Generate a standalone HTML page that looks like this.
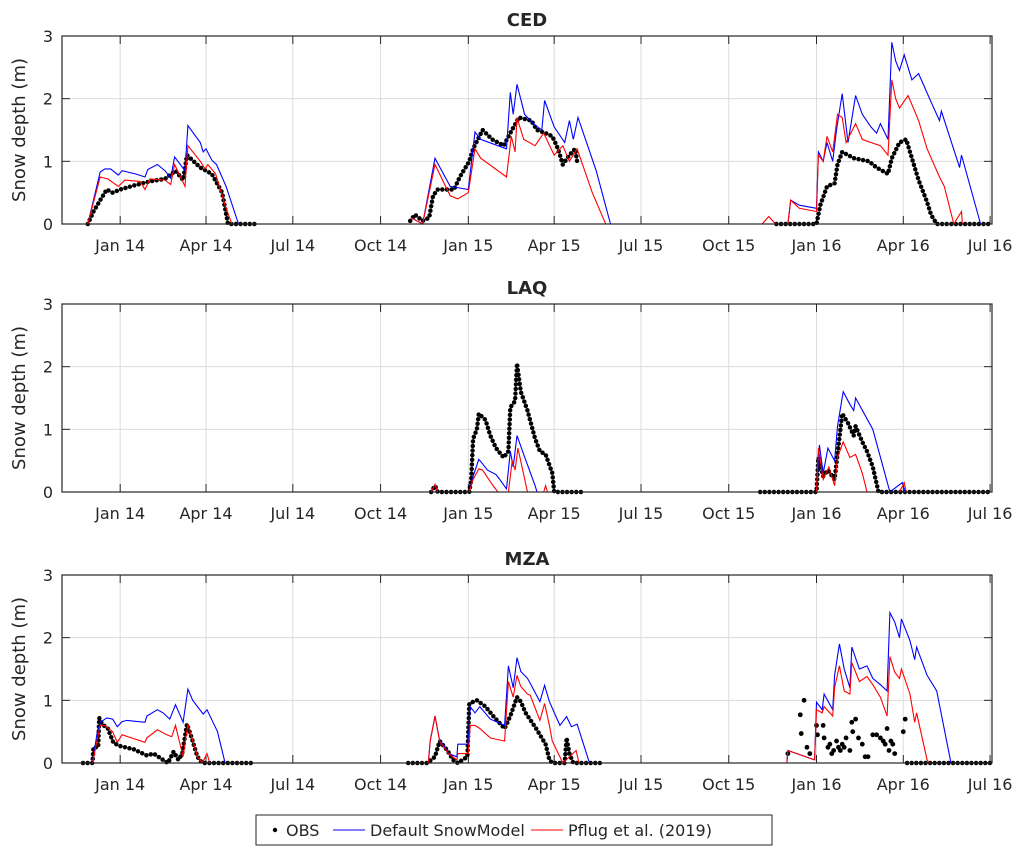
<!DOCTYPE html>
<html><head><meta charset="utf-8"><style>
body{margin:0;background:#fff}
svg text{font-family:"DejaVu Sans","Liberation Sans",sans-serif;fill:#262626}
</style></head><body>
<svg id="chart" width="1029" height="854" viewBox="0 0 1029 854" xmlns="http://www.w3.org/2000/svg"></svg>
<script>
const xTickDays=[0,90,181,273,365,455,546,638,730,821,912];
const xTickLabels=["Jan 14","Apr 14","Jul 14","Oct 14","Jan 15","Apr 15","Jul 15","Oct 15","Jan 16","Apr 16","Jul 16"];
const yTicks=[0,1,2,3];
const panelTitles=["CED","LAQ","MZA"];

const cedDefault=[[-34,0],[-21,.83],[-16,.88],[-10,.88],[-2,.78],[2,.85],[16,.8],[26,.75],[29,.87],[39,.95],[47,.85],[53,.73],[57,1.07],[68,.85],[71,1.57],[84,1.3],[87,1.15],[90,1.2],[96,1.02],[101,.95],[111,.6],[124,0],[141,0],null,
[305,.1],[317,0],[330,1.05],[346,.6],[365,.55],[372,1.47],[378,1.35],[405,1.2],[409,2.1],[412,1.75],[416,2.23],[424,1.75],[433,1.6],[442,1.5],[445,1.97],[455,1.55],[466,1.3],[471,1.65],[475,1.35],[480,1.7],[499,.85],[514,0],[545,0],null,
[700,0],[703,.38],[712,.3],[730,.25],[732,1.15],[737,1.0],[741,1.3],[747,1.0],[751,1.5],[757,2.08],[763,1.3],[771,2.05],[778,1.75],[787,1.55],[793,1.45],[797,1.6],[805,1.35],[809,2.9],[813,2.6],[817,2.45],[822,2.7],[830,2.3],[837,2.4],[850,1.95],[859,1.65],[861,1.8],[880,.9],[882,1.1],[902,0],[914,0]];
const cedPflug=[[-34,0],[-21,.75],[-13,.72],[-2,.6],[5,.7],[21,.68],[26,.55],[31,.72],[47,.7],[53,.63],[57,.95],[68,.6],[71,1.25],[84,1.0],[89,.88],[92,.95],[100,.8],[110,.3],[117,0],[141,0],null,
[305,.1],[317,0],[330,.95],[346,.45],[354,.4],[365,.5],[372,1.2],[378,1.05],[405,.75],[410,1.4],[414,1.15],[416,1.7],[423,1.35],[435,1.25],[444,1.45],[455,1.1],[464,1.25],[471,1.0],[479,1.2],[495,.5],[509,0],[545,0],null,
[673,0],[680,.12],[687,0],[700,0],[703,.38],[712,.25],[730,.2],[732,1.1],[737,1.0],[741,1.4],[747,1.15],[752,1.75],[757,1.7],[761,1.3],[771,1.6],[778,1.35],[787,1.3],[797,1.25],[805,1.1],[809,2.3],[813,2.0],[817,1.85],[826,2.05],[837,1.65],[846,1.2],[859,.75],[864,.6],[874,0],[882,.2],[883,0],[912,0]];
const cedObs=[[-34,0],[-28,.2],[-21,.38],[-14,.55],[-8,.5],[0,.55],[16,.62],[31,.68],[47,.72],[58,.85],[66,.7],[70,1.1],[84,.9],[96,.8],[107,.5],[113,0],[141,0],null,
[304,.05],[309,.15],[317,.05],[324,.1],[328,.45],[333,.55],[350,.55],[356,.75],[366,1.0],[370,1.2],[380,1.5],[390,1.35],[402,1.25],[409,1.45],[418,1.7],[431,1.65],[437,1.5],[446,1.45],[453,1.4],[459,1.2],[464,.95],[471,1.1],[477,1.2],[479,1.0],null,
[688,0],[730,0],[734,.3],[741,.6],[749,.65],[752,.95],[757,1.15],[769,1.05],[785,1.0],[793,.9],[805,.8],[809,1.05],[817,1.3],[824,1.35],[830,1.05],[837,.7],[846,.35],[850,.15],[856,0],[912,0]];

const laqDefault=[[305,0],[326,0],[330,.12],[333,0],[366,0],[370,.25],[376,.52],[380,.45],[385,.35],[394,.28],[398,.2],[405,.05],[409,.65],[412,.4],[416,.9],[423,.6],[435,.1],[437,0],[547,0],null,
[671,0],[730,0],[733,.75],[737,.3],[742,.7],[749,.5],[752,1.05],[758,1.6],[765,1.4],[769,1.3],[771,1.5],[789,1.0],[807,0],[820,.15],[823,0],[912,0]];
const laqPflug=[[305,0],[326,0],[330,.12],[333,0],[366,0],[370,.2],[376,.37],[380,.35],[390,.12],[396,0],[407,0],[411,.5],[414,.35],[417,.7],[427,0],[444,0],[446,.1],[448,0],[547,0],null,
[671,0],[730,0],[732,.7],[737,.2],[743,.4],[749,.1],[752,.55],[758,.8],[765,.55],[771,.6],[778,.3],[783,0],[817,0],[822,.15],[824,0],[912,0]];
const laqObs=[[326,0],[330,.1],[333,0],[366,0],[368,.2],[370,.85],[374,1.0],[376,1.25],[383,1.15],[388,.9],[394,.7],[402,.55],[407,.65],[409,1.35],[414,1.45],[416,2.05],[420,1.6],[427,1.3],[435,.85],[440,.65],[446,.6],[453,.3],[455,0],[483,0],null,
[671,0],[730,0],[732,.55],[737,.25],[742,.35],[749,.2],[752,.6],[757,1.25],[763,1.1],[769,.9],[771,1.05],[778,.8],[783,.65],[789,.4],[795,0],[914,0]];

const mzaDefault=[[-39,0],[-29,0],[-24,.5],[-21,.65],[-14,.72],[-8,.7],[-3,.58],[2,.66],[7,.68],[26,.65],[28,.75],[39,.85],[45,.8],[52,.7],[58,.93],[66,.65],[71,1.18],[76,1.0],[87,.78],[91,.85],[102,.5],[110,0],[139,0],null,
[302,0],[323,0],[325,.35],[330,.75],[335,.35],[339,.3],[344,.15],[353,.1],[354,.3],[365,.3],[367,.9],[372,.8],[377,.9],[388,.7],[403,.6],[407,1.55],[412,1.2],[416,1.68],[420,1.46],[427,1.35],[430,1.27],[440,.98],[445,1.24],[450,.98],[461,.6],[468,.74],[473,.58],[479,.62],[492,0],[545,0],null,
[671,0],[699,0],[700,.2],[728,.05],[730,.97],[736,.85],[738,1.1],[747,.85],[749,1.4],[754,1.9],[759,1.5],[765,1.2],[767,1.85],[775,1.5],[783,1.55],[789,1.35],[797,1.25],[804,1.15],[807,2.4],[812,2.25],[817,2.0],[819,2.3],[828,1.95],[833,1.65],[835,1.85],[846,1.4],[856,1.15],[871,0],[914,0]];
const mzaPflug=[[-39,0],[-29,0],[-21,.6],[-16,.6],[-8,.5],[-3,.33],[2,.45],[26,.33],[28,.4],[39,.53],[49,.45],[54,.42],[58,.6],[66,.1],[71,.62],[81,.1],[86,0],[91,.15],[94,0],[139,0],null,
[302,0],[323,0],[325,.35],[330,.75],[335,.35],[344,.15],[353,.05],[354,.15],[365,.15],[367,.6],[372,.6],[377,.55],[388,.4],[403,.35],[407,1.3],[412,1.05],[416,1.4],[420,1.22],[427,1.1],[430,1.08],[440,.68],[445,.95],[450,.6],[453,.35],[461,.1],[464,0],[478,.2],[481,0],[545,0],null,
[671,0],[699,0],[700,.2],[728,.05],[730,.85],[736,.8],[738,.9],[747,.75],[749,1.2],[754,1.55],[759,1.15],[765,1.1],[767,1.6],[775,1.3],[783,1.38],[789,1.25],[797,1.05],[804,.75],[807,1.7],[812,1.45],[817,1.35],[819,1.5],[828,1.1],[833,.65],[835,.8],[846,.05],[848,0],[914,0]];
const mzaObs=[[-39,0],[-29,0],[-28,.25],[-23,.25],[-22,.72],[-19,.62],[-13,.55],[-7,.32],[0,.27],[14,.22],[28,.12],[35,.15],[45,.05],[50,0],[56,.18],[61,.05],[65,.15],[70,.62],[75,.4],[81,.1],[86,0],[139,0],null,
[302,0],[322,0],[330,.1],[335,.35],[343,.2],[349,.05],[354,0],[364,.1],[366,.95],[374,1.0],[383,.9],[391,.75],[403,.55],[409,.75],[416,1.05],[420,.98],[425,.8],[436,.55],[446,.3],[450,.05],[453,0],[466,0],[468,.4],[471,.15],[475,0],[503,0],null,
[825,0],[912,0]];
const mzaObsScatter=[[700,.15],[713,.77],[717,1.0],[714,.47],[720,.25],[723,.15],[730,.6],[731,.45],[737,.6],[738,.4],[742,.25],[744,.3],[746,.15],[748,.2],[751,.35],[753,.25],[755,.2],[757,.3],[759,.25],[761,.4],[765,.2],[767,.65],[768,.5],[771,.7],[774,.4],[778,.3],[781,.1],[784,.1],[789,.45],[793,.45],[797,.4],[800,.35],[802,.3],[804,.55],[806,.2],[808,.35],[810,.3],[812,.15],[821,.5],[823,.7]];

const NS="http://www.w3.org/2000/svg";
const svg=document.getElementById('chart');
const L=62,R=992,H=188;
const tops=[36,304,575];
const dMin=-61,dMax=914;
function xs(d){return L+(d-dMin)/(dMax-dMin)*(R-L);}
function mk(tag,attrs,parent){const e=document.createElementNS(NS,tag);for(const k in attrs)e.setAttribute(k,attrs[k]);(parent||svg).appendChild(e);return e;}
function pathD(data,ys){let s='',pen=false;for(const p of data){if(p===null){pen=false;continue;}s+=(pen?'L':'M')+xs(p[0]).toFixed(1)+','+ys(p[1]).toFixed(1);pen=true;}return s;}

const panels=[[cedDefault,cedPflug,cedObs,null],[laqDefault,laqPflug,laqObs,null],[mzaDefault,mzaPflug,mzaObs,mzaObsScatter]];
panels.forEach((pd,i)=>{
  const T=tops[i];
  const ys=v=>T+H-v/3*H;
  const g=mk('g',{});
  
  
  const grid=mk('g',{stroke:'#dcdcdc','stroke-width':1},g);
  
  
  xTickDays.forEach(d=>{mk('line',{x1:xs(d),x2:xs(d),y1:T,y2:T+H},grid);});
  yTicks.forEach(v=>{mk('line',{x1:L,x2:R,y1:ys(v),y2:ys(v)},grid);});
  const tl=mk('text',{x:(L+R)/2,y:T-10,'text-anchor':'middle','font-size':18,'font-weight':'bold'},g);
  tl.textContent=panelTitles[i];
  
  
  const yl=mk('text',{x:0,y:0,'text-anchor':'middle','font-size':18,transform:`translate(25,${T+H/2}) rotate(-90)`},g);
  yl.textContent='Snow depth (m)';
  
  
  yTicks.forEach(v=>{
    const t=mk('text',{x:L-9,y:ys(v)+6,'text-anchor':'end','font-size':16},g);t.textContent=v;
    
    
    mk('line',{x1:L,x2:L+8,y1:ys(v),y2:ys(v),stroke:'#262626'},g);
    mk('line',{x1:R,x2:R-8,y1:ys(v),y2:ys(v),stroke:'#262626'},g);
  });
  xTickDays.forEach((d,k)=>{
    const t=mk('text',{x:xs(d),y:T+H+27,'text-anchor':'middle','font-size':16},g);t.textContent=xTickLabels[k];
    
    
    mk('line',{x1:xs(d),x2:xs(d),y1:T+H,y2:T+H-8,stroke:'#262626'},g);
    mk('line',{x1:xs(d),x2:xs(d),y1:T,y2:T+8,stroke:'#262626'},g);
  });
  const ob=mk('path',{d:pathD(pd[2],ys),fill:'none',stroke:'#000','stroke-width':4.5,'stroke-linecap':'round','stroke-dasharray':'0 4.6'},g);
  
  
  if(pd[3]){pd[3].forEach(p=>{const c=mk('circle',{cx:xs(p[0]),cy:ys(p[1]),r:2.4,fill:'#000'},g);
    
    });}
  const bl=mk('path',{d:pathD(pd[0],ys),fill:'none',stroke:'#0000ff','stroke-width':1.1},g);
  
  
  const rd=mk('path',{d:pathD(pd[1],ys),fill:'none',stroke:'#ff0000','stroke-width':1.1},g);
  
  
  const box=mk('rect',{x:L,y:T,width:R-L,height:H,fill:'none',stroke:'#262626','stroke-width':1.2},g);
  
  
});
</script>
<svg style="position:absolute;left:0;top:0" width="1029" height="854">
<g>
<rect x="256" y="815" width="516" height="30" fill="#fff" stroke="#262626" stroke-width="1"/>
<g><circle cx="275" cy="830" r="2.2" fill="#000"/><text x="286" y="836" font-size="16" fill="#262626">OBS</text></g>
<g><line x1="333" y1="830" x2="365" y2="830" stroke="#0000ff" stroke-width="1.1"/><text x="370" y="836" font-size="16" fill="#262626">Default SnowModel</text></g>
<g><line x1="531" y1="830" x2="563" y2="830" stroke="#ff0000" stroke-width="1.1"/><text x="568" y="836" font-size="16" fill="#262626">Pflug et al. (2019)</text></g>
</g>
</svg>
</body></html>
